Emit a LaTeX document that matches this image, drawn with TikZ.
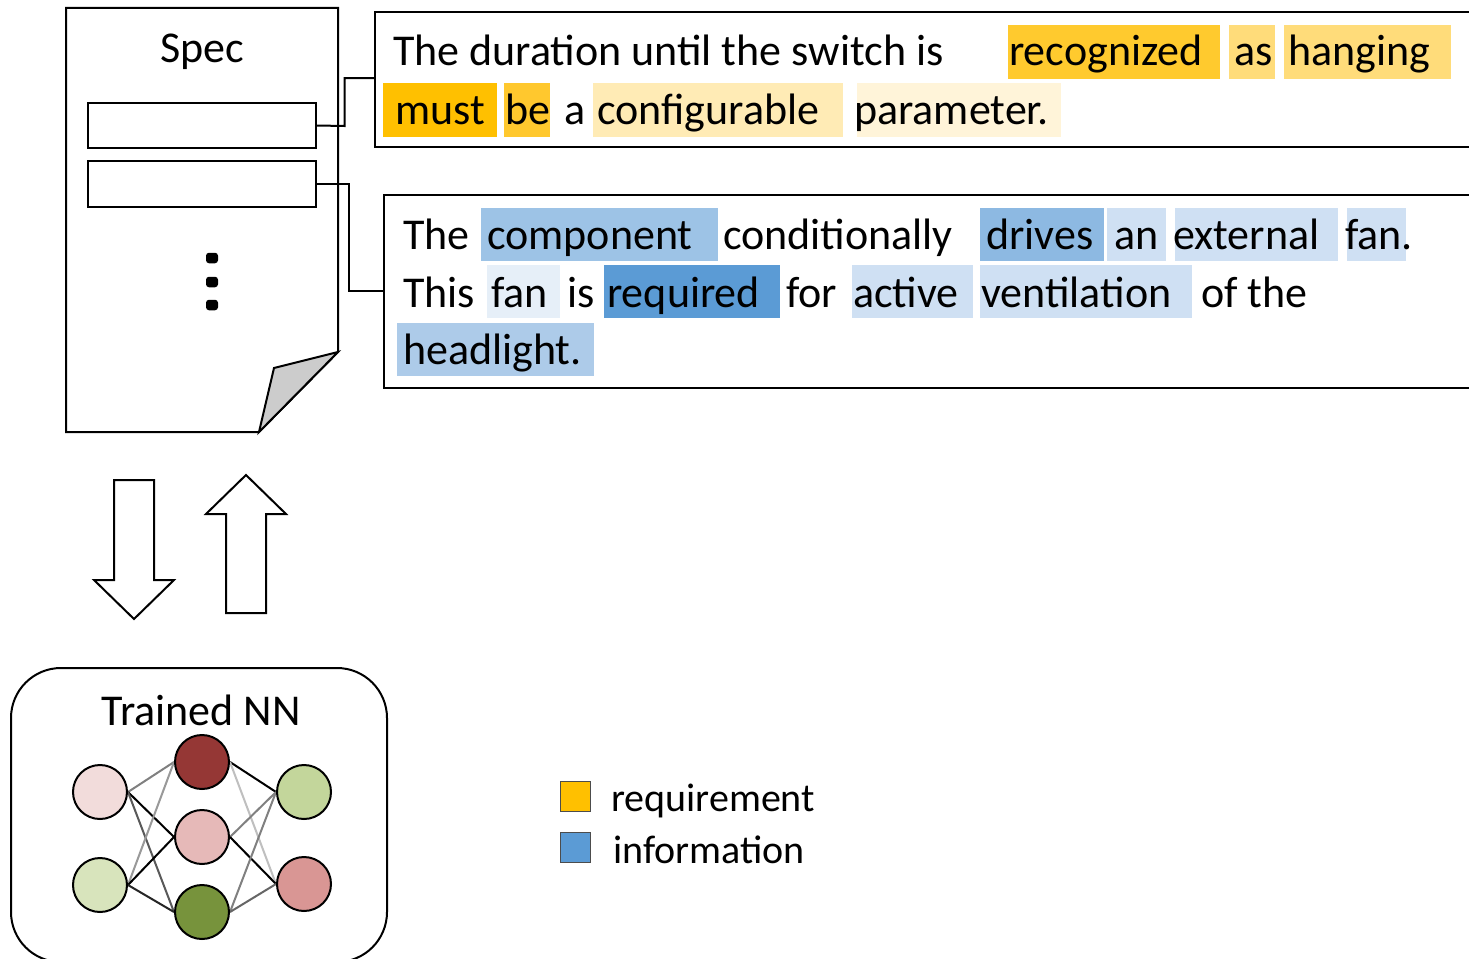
\documentclass[tikz,border=0pt]{standalone}
\usepackage{fontspec}
\setmainfont{Carlito}
\newcommand{\hlbox}[5]{\fill[#5] (#1,#2) rectangle (#3,#4);}
\definecolor{hOne}{HTML}{FFCA2E}
\definecolor{hTwo}{HTML}{FFDC7A}
\definecolor{hThree}{HTML}{FFC000}
\definecolor{hFour}{HTML}{FFC82E}
\definecolor{hFive}{HTML}{FFEBB5}
\definecolor{hSix}{HTML}{FFF4D9}
\definecolor{bOne}{HTML}{9DC3E6}
\definecolor{bTwo}{HTML}{8DB9E2}
\definecolor{bThree}{HTML}{CFE0F3}
\definecolor{bFour}{HTML}{E6EFF8}
\definecolor{bFive}{HTML}{5B9BD5}
\definecolor{bSix}{HTML}{ADCBE9}
\tikzset{
  word/.style={anchor=base west,inner sep=0pt,font=\fontsize{44}{50}\selectfont},
  title/.style={anchor=base,inner sep=0pt,font=\fontsize{44}{50}\selectfont},
  legendtext/.style={anchor=base west,inner sep=0pt,font=\fontsize{40}{48}\selectfont},
  frame/.style={draw=black,line width=2pt,line join=miter},
  neuron/.style={circle,draw=black,line width=2pt,minimum size=54pt,inner sep=0pt},
  edge/.style={line width=2pt},
}
\begin{document}
\begin{tikzpicture}[x=1pt,y=-1pt]
\useasboundingbox (0,0) rectangle (1469,958);
\clip (0,0) rectangle (1469,958);
\fill[white] (0,0) rectangle (1469,958);
% document
\draw[frame,fill=white] (66,8) -- (338,8) -- (338,352) -- (259,432) -- (66,432) -- cycle;
\draw[frame,fill=black!20] (338,352) -- (274,368) -- (259,432) -- cycle;
\node[title] (spec) at (202,63) {Spec};
\node[frame,fill=white,minimum width=228pt,minimum height=45.5pt,inner sep=0pt] (rowa) at (202,125.5) {};
\node[frame,fill=white,minimum width=228pt,minimum height=46pt,inner sep=0pt] (rowb) at (202,184) {};
\foreach \yy/\nm in {258/da,282/db,305/dc}
  \node[fill=black,rounded corners=3pt,minimum width=12pt,minimum height=10.5pt,inner sep=0pt] (\nm) at (212,\yy) {};
% text boxes
\node[frame,minimum width=1200pt,minimum height=135pt,inner sep=0pt,anchor=north west] (boxa) at (374,11) {};
\node[frame,minimum width=1200pt,minimum height=193pt,inner sep=0pt,anchor=north west] (boxb) at (383,194) {};
\coordinate (boxain) at (374,78);
\coordinate (boxbin) at (383,291);
\draw[frame] (rowa.east) -- (344.5,126) -- (344.5,78) -- (boxain);
\draw[frame] (rowb.east) -- (349,184) -- (349,291) -- (boxbin);
% highlights
\hlbox{1008}{25}{1220}{79}{hOne}
\hlbox{1229}{25}{1275}{79}{hTwo}
\hlbox{1284}{25}{1451}{79}{hTwo}
\hlbox{383}{83}{497}{137}{hThree}
\hlbox{504}{83}{550}{137}{hFour}
\hlbox{593}{83}{843}{137}{hFive}
\hlbox{857}{83}{1061}{137}{hSix}
\hlbox{481}{208}{718}{261}{bOne}
\hlbox{980}{208}{1104}{261}{bTwo}
\hlbox{1107}{208}{1166}{261}{bThree}
\hlbox{1175}{208}{1338}{261}{bThree}
\hlbox{1347}{208}{1406}{261}{bThree}
\hlbox{487}{265}{560}{318}{bFour}
\hlbox{604}{265}{780}{318}{bFive}
\hlbox{852}{265}{973}{318}{bThree}
\hlbox{980}{265}{1192}{318}{bThree}
\hlbox{397}{323}{594}{376}{bSix}
% words
\node[word] (a1) at (393,66) {The duration until the switch is};
\node[word] (a2) at (1009,66) {recognized};
\node[word] (a3) at (1234,66) {as};
\node[word] (a4) at (1288,66) {hanging};
\node[word] (a5) at (395,124) {must};
\node[word] (a6) at (505,124) {be};
\node[word] (a7) at (564,124) {a};
\node[word] (a8) at (597,124) {configurable};
\node[word] (a9) at (854,124) {parameter.};
\node[word] (b1) at (403,249) {The};
\node[word] (b2) at (487,249) {component};
\node[word] (b3) at (723,249) {conditionally};
\node[word] (b4) at (986,249) {drives};
\node[word] (b5) at (1114,249) {an};
\node[word] (b6) at (1173,249) {external};
\node[word] (b7) at (1345,249) {fan.};
\node[word] (b8) at (403,307) {This};
\node[word] (b9) at (491,307) {fan};
\node[word] (b10) at (567,307) {is};
\node[word] (b11) at (607,307) {required};
\node[word] (b12) at (786,307) {for};
\node[word] (b13) at (853,307) {active};
\node[word] (b14) at (981,307) {ventilation};
\node[word] (b15) at (1201,307) {of the};
\node[word] (b16) at (403,364) {headlight.};
% block arrows
\draw[line width=2pt,line join=miter] (114,480) -- (154,480) -- (154,580) -- (174,580) -- (134,619) -- (94,580) -- (114,580) -- cycle;
\draw[line width=2pt,line join=miter] (246,475) -- (286,514) -- (266,514) -- (266,613) -- (226,613) -- (226,514) -- (206,514) -- cycle;
% NN
\node[frame,rounded corners=50pt,minimum width=376pt,minimum height=294pt,inner sep=0pt,anchor=north west] (nnbox) at (10,667) {};
\node[title] (nntitle) at (201,725) {Trained NN};
\node[neuron,fill=none,draw=none] (l1) at (100,792) {};
\node[neuron,fill=none,draw=none] (l2) at (100,885) {};
\node[neuron,fill=none,draw=none] (m1) at (202,762) {};
\node[neuron,fill=none,draw=none] (m2) at (202,837) {};
\node[neuron,fill=none,draw=none] (m3) at (202,912) {};
\node[neuron,fill=none,draw=none] (r1) at (304,792) {};
\node[neuron,fill=none,draw=none] (r2) at (304,884) {};
\draw[edge,black!50] (l1.east) -- (m1.west);
\draw[edge,black] (l1.east) -- (m2.west);
\draw[edge,black!65] (l1.east) -- (m3.west);
\draw[edge,black!40] (l2.east) -- (m1.west);
\draw[edge,black] (l2.east) -- (m2.west);
\draw[edge,black!85] (l2.east) -- (m3.west);
\draw[edge,black] (m1.east) -- (r1.west);
\draw[edge,black!25] (m1.east) -- (r2.west);
\draw[edge,black!50] (m2.east) -- (r1.west);
\draw[edge,black] (m2.east) -- (r2.west);
\draw[edge,black!50] (m3.east) -- (r1.west);
\draw[edge,black!60] (m3.east) -- (r2.west);
\foreach \nm/\col in {l1/F2DCDB,l2/D8E4BC,m1/953735,m2/E6B9B8,m3/77933C,r1/C3D69B,r2/D99694}{
  \definecolor{cc}{HTML}{\col}
  \node[neuron,fill=cc] at (\nm) {};
}
% legend
\node[draw=black!70,line width=1pt,fill=hThree,minimum size=30pt,inner sep=0pt] (lega) at (575,796.5) {};
\node[draw=black!70,line width=1pt,fill=bFive,minimum size=30pt,inner sep=0pt] (legb) at (575,847.5) {};
\node[legendtext] (lta) at (611,811) {requirement};
\node[legendtext] (ltb) at (613,863) {information};
\end{tikzpicture}
\end{document}
